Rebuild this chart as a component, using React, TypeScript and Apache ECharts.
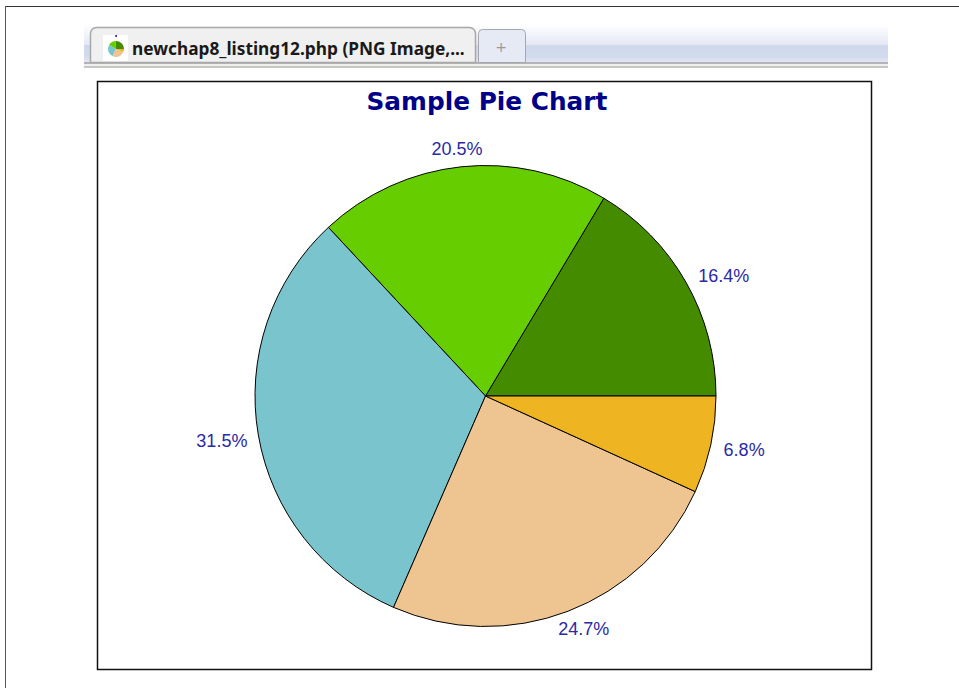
import React, { useEffect, useRef } from "react";
import * as echarts from "echarts";

const sliceNames = ["A", "B", "C", "D", "E"];
const sliceValues = [16.4, 20.5, 31.5, 24.7, 6.8];
const sliceColors = ["#458b00", "#66cd00", "#7ac5cd", "#eec591", "#eeb422"];
const labelOffsets = [
  [2, -3],
  [27, -12],
  [0, 5],
  [-17, 12],
  [2, 4],
];
const chartTitle = "Sample Pie Chart";
const tabTitle = "newchap8_listing12.php (PNG Image,...";

export default function App() {
  const ref = useRef<HTMLDivElement>(null);
  useEffect(() => {
    const chart = echarts.init(ref.current!, undefined, { renderer: "svg" });
    chart.setOption({
      animation: false,
      backgroundColor: "#ffffff",
      title: {
        text: chartTitle,
        left: 361.5,
        top: 84,
        textStyle: { fontFamily: "DejaVu Sans", fontWeight: "bold", fontSize: 24.8, color: "#000088" },
      },
      graphic: [
        { type: "line", shape: { x1: 5, y1: 6.5, x2: 959, y2: 6.5 }, style: { stroke: "#333", lineWidth: 1 } },
        { type: "line", shape: { x1: 5.5, y1: 6, x2: 5.5, y2: 688 }, style: { stroke: "#555", lineWidth: 1 } },
        {
          type: "rect",
          shape: { x: 84, y: 24, width: 804, height: 38 },
          style: {
            fill: new echarts.graphic.LinearGradient(0, 0, 0, 1, [
              { offset: 0, color: "#ffffff" },
              { offset: 0.55, color: "#e4e8f5" },
              { offset: 0.56, color: "#d0d8ec" },
              { offset: 0.85, color: "#d2daed" },
              { offset: 1, color: "#e2e6f3" },
            ]),
          },
        },
        { type: "rect", shape: { x: 84, y: 62, width: 804, height: 2 }, style: { fill: "#b4b4b8" } },
        { type: "rect", shape: { x: 84, y: 64, width: 804, height: 2 }, style: { fill: "#f0f0ee" } },
        { type: "rect", shape: { x: 84, y: 66, width: 804, height: 2 }, style: { fill: "#c6c6c4" } },
        {
          type: "rect",
          shape: { x: 478.5, y: 29.5, width: 47, height: 33, r: [4, 4, 0, 0] },
          style: { fill: "#e6eaf5", stroke: "#a8a8ac", lineWidth: 1 },
        },
        { type: "text", x: 501, y: 47, style: { text: "+", fontFamily: "DejaVu Sans", fontSize: 14, fill: "#999", align: "center", verticalAlign: "middle" } },
        {
          type: "rect",
          shape: { x: 90.5, y: 27.5, width: 385, height: 35, r: [6, 6, 0, 0] },
          style: { fill: "#f0f0f0", stroke: "#a8a8a8", lineWidth: 1.5 },
        },
        { type: "rect", shape: { x: 103, y: 35, width: 25, height: 26 }, style: { fill: "#ffffff" } },
        { type: "sector", shape: { cx: 116, cy: 49, r: 8, r0: 0, startAngle: -1.6, endAngle: 0 }, style: { fill: "#458b00" } },
        { type: "sector", shape: { cx: 116, cy: 49, r: 8, r0: 0, startAngle: -2.6, endAngle: -1.6 }, style: { fill: "#66cd00" } },
        { type: "sector", shape: { cx: 116, cy: 49, r: 8, r0: 0, startAngle: 2, endAngle: 3.7 }, style: { fill: "#7ac5cd" } },
        { type: "sector", shape: { cx: 116, cy: 49, r: 8, r0: 0, startAngle: 0.4, endAngle: 2 }, style: { fill: "#eec591" } },
        { type: "sector", shape: { cx: 116, cy: 49, r: 8, r0: 0, startAngle: 0, endAngle: 0.4 }, style: { fill: "#eeb422" } },
        { type: "circle", shape: { cx: 116, cy: 36, r: 1 }, style: { fill: "#2222aa" } },
        {
          type: "text",
          x: 132,
          y: 48,
          style: { text: tabTitle, fontFamily: "Noto Sans", fontWeight: "bold", fontSize: 17.3, fill: "#1a1a1a", verticalAlign: "middle" },
        },
        {
          type: "rect",
          shape: { x: 97.5, y: 81.5, width: 774, height: 588 },
          style: { fill: "none", stroke: "#111", lineWidth: 1.5 },
        },
      ],
      series: [
        {
          type: "pie",
          center: [485.5, 396],
          radius: [0, 230.5],
          startAngle: 0,
          clockwise: false,
          minAngle: 0,
          avoidLabelOverlap: false,
          data: sliceValues.map((value, i) => ({ name: sliceNames[i], value, itemStyle: { color: sliceColors[i] } })),
          itemStyle: { borderColor: "#000", borderWidth: 1 },
          emphasis: { disabled: true },
          label: {
            show: true,
            position: "outside",
            formatter: (p: any) => p.value.toFixed(1) + "%",
            fontFamily: "Liberation Sans",
            fontSize: 18,
            color: "#2a2aa5",
          },
          labelLine: { show: false, length: 6, length2: 0 },
          labelLayout: (p: any) => ({ dx: labelOffsets[p.dataIndex][0], dy: labelOffsets[p.dataIndex][1] }),
        },
      ],
    });
    return () => chart.dispose();
  }, []);
  return <div ref={ref} style={{ position: "fixed", left: 0, top: 0, width: 959, height: 688 }} />;
}
